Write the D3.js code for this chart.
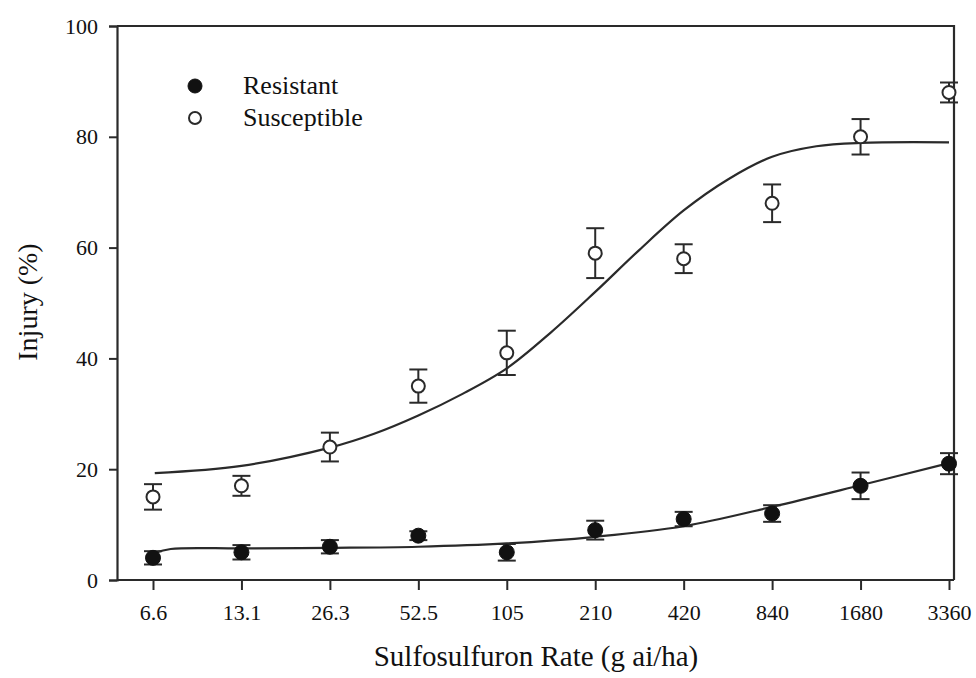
<!DOCTYPE html>
<html>
<head>
<meta charset="utf-8">
<script src="https://cdn.jsdelivr.net/npm/d3@7"></script>
<style>
  body { margin: 0; background: #fff; }
  svg text { font-family: "Liberation Serif", "DejaVu Serif", serif; fill: #111; }
</style>
</head>
<body>
<script>
//chart size
var w = 976, h = 678;

//rate categories (g ai/ha) and tick labels on the y axis
var rates = ["6.6", "13.1", "26.3", "52.5", "105", "210", "420", "840", "1680", "3360"];
var yTicks = [0, 20, 40, 60, 80, 100];

var resistantMean = [4, 5, 6, 8, 5, 9, 11, 12, 17, 21];
var resistantErr  = [1.2, 1.3, 1.2, 0.8, 1.5, 1.7, 1.3, 1.5, 2.4, 1.9];
var susceptibleMean = [15, 17, 24, 35, 41, 59, 58, 68, 80, 88];
var susceptibleErr  = [2.3, 1.8, 2.6, 3.0, 4.0, 4.5, 2.6, 3.4, 3.2, 1.8];

//fitted curves (x = rate index, y = injury %)
var resistantFitX = [0.02, 0.2, 1, 2, 3, 4, 5, 6, 7, 8, 9];
var resistantFitY = [4.9, 5.6, 5.7, 5.8, 6.0, 6.6, 7.8, 9.7, 13.2, 17.1, 21.1];
var susceptibleFitX = [0.02, 1, 2, 2.5, 3, 3.5, 4, 4.5, 5, 5.5, 6, 6.5, 7, 7.5, 8, 9];
var susceptibleFitY = [19.3, 20.6, 23.9, 26.4, 29.7, 33.6, 38.2, 44.7, 52.0, 59.6, 66.7, 72.3, 76.4, 78.3, 78.9, 79.0];

var legendNames = ["Resistant", "Susceptible"];

window.onload = function(){

    var svg = d3.select("body")
        .append("svg")
        .attr("width", w)
        .attr("height", h);

    //plot frame edges
    var left = 117, right = 954, top = 26, bottom = 580;

    var x = d3.scaleLinear()
        .domain([0, rates.length - 1])
        .range([153, 949]);

    var y = d3.scaleLinear()
        .domain([0, 100])
        .range([bottom, top]);

    var ink = "#2a2a2a";
    var serif = "Liberation Serif";

    //frame (top and right sides)
    svg.append("path")
        .attr("d", "M" + left + "," + top + "H" + right + "V" + bottom)
        .attr("fill", "none")
        .attr("stroke", ink)
        .attr("stroke-width", 2.2);

    //y axis
    var yAxis = d3.axisLeft(y)
        .tickValues(yTicks)
        .tickSize(8)
        .tickPadding(11);

    var gy = svg.append("g")
        .attr("transform", "translate(" + left + ",0)")
        .call(yAxis);

    //x axis, ticks at each rate index
    var xAxis = d3.axisBottom(x)
        .tickValues(d3.range(rates.length))
        .tickFormat(function(i){ return rates[i]; })
        .tickSize(10)
        .tickPadding(14);

    var gx = svg.append("g")
        .attr("transform", "translate(0," + bottom + ")")
        .call(xAxis);

    gx.select(".domain").attr("d", "M" + left + ",0H" + right);

    [gx, gy].forEach(function(g){
        g.attr("font-family", serif).attr("font-size", 22);
        g.select(".domain").attr("stroke", ink).attr("stroke-width", 2.2);
        g.selectAll(".tick line").attr("stroke", ink).attr("stroke-width", 2);
        g.selectAll(".tick text").attr("fill", "#111");
    });

    //axis titles
    svg.append("text")
        .attr("x", 536)
        .attr("y", 666)
        .attr("text-anchor", "middle")
        .style("font-family", serif)
        .style("font-size", "29px")
        .text("Sulfosulfuron Rate (g ai/ha)");

    svg.append("text")
        .attr("transform", "translate(37,302) rotate(-90)")
        .attr("text-anchor", "middle")
        .style("font-family", serif)
        .style("font-size", "28px")
        .text("Injury (%)");

    //fitted curves
    var line = d3.line()
        .x(function(d){ return x(d[0]); })
        .y(function(d){ return y(d[1]); })
        .curve(d3.curveCatmullRom.alpha(0.5));

    svg.append("path")
        .datum(d3.zip(susceptibleFitX, susceptibleFitY))
        .attr("d", line)
        .attr("fill", "none")
        .attr("stroke", ink)
        .attr("stroke-width", 2.2);

    svg.append("path")
        .datum(d3.zip(resistantFitX, resistantFitY))
        .attr("d", line)
        .attr("fill", "none")
        .attr("stroke", ink)
        .attr("stroke-width", 2.2);

    //draws error bars and markers for one series
    function drawSeries(means, errs, filled){
        var data = means.map(function(m, i){ return {i: i, m: m, e: errs[i]}; });
        var g = svg.append("g");

        var bars = g.selectAll(".err")
            .data(data)
            .enter()
            .append("g")
            .attr("stroke", ink)
            .attr("stroke-width", 2);

        bars.append("line")
            .attr("x1", function(d){ return x(d.i); })
            .attr("x2", function(d){ return x(d.i); })
            .attr("y1", function(d){ return y(d.m - d.e); })
            .attr("y2", function(d){ return y(d.m + d.e); });

        [-1, 1].forEach(function(s){
            bars.append("line")
                .attr("x1", function(d){ return x(d.i) - 9; })
                .attr("x2", function(d){ return x(d.i) + 9; })
                .attr("y1", function(d){ return y(d.m + s * d.e); })
                .attr("y2", function(d){ return y(d.m + s * d.e); });
        });

        g.selectAll(".pt")
            .data(data)
            .enter()
            .append("circle")
            .attr("cx", function(d){ return x(d.i); })
            .attr("cy", function(d){ return y(d.m); })
            .attr("r", filled ? 7.5 : 6.5)
            .attr("fill", filled ? "#111" : "#fff")
            .attr("stroke", filled ? "#111" : ink)
            .attr("stroke-width", filled ? 1 : 2);
    }

    drawSeries(susceptibleMean, susceptibleErr, false);
    drawSeries(resistantMean, resistantErr, true);

    //legend
    var legend = svg.selectAll(".legend")
        .data(legendNames)
        .enter()
        .append("g")
        .attr("transform", function(d, i){ return "translate(195," + (86 + i * 32) + ")"; });

    legend.append("circle")
        .attr("r", function(d, i){ return i === 0 ? 7 : 6; })
        .attr("fill", function(d, i){ return i === 0 ? "#111" : "#fff"; })
        .attr("stroke", function(d, i){ return i === 0 ? "#111" : ink; })
        .attr("stroke-width", function(d, i){ return i === 0 ? 1 : 2; });

    legend.append("text")
        .attr("x", 48)
        .attr("y", 8)
        .style("font-family", serif)
        .style("font-size", "26px")
        .text(function(d){ return d; });
};
</script>
</body>
</html>
